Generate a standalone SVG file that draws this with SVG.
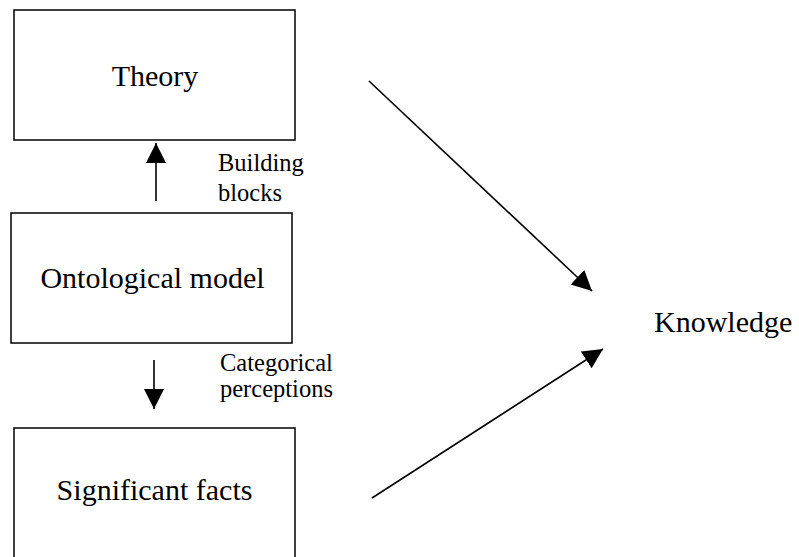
<svg xmlns="http://www.w3.org/2000/svg" width="799" height="557" viewBox="0 0 799 557">
  <style>
    .box { fill: #ffffff; stroke: #000000; stroke-width: 1.5; }
    .main { font-family: "Liberation Serif", "Times New Roman", serif; font-size: 30px; fill: #000000; }
    .lbl { font-family: "Liberation Serif", "Times New Roman", serif; font-size: 24.5px; fill: #000000; }
    .edge { fill: none; stroke: #000000; stroke-width: 1.6; }
  </style>
  <defs>
    <marker id="head" markerUnits="userSpaceOnUse" markerWidth="22" markerHeight="22" viewBox="0 0 22 22" refX="20" refY="10" orient="auto">
      <path d="M0,0 L20,10 L0,20 Z" fill="#000000"/>
    </marker>
  </defs>
  <rect width="799" height="557" fill="#ffffff"/>

  <g id="theory">
    <rect class="box" x="14" y="10" width="281" height="130"/>
    <text class="main" x="155" y="86" text-anchor="middle">Theory</text>
  </g>

  <g id="ontological-model">
    <rect class="box" x="11" y="213" width="281" height="130"/>
    <text class="main" x="152.5" y="288" text-anchor="middle">Ontological model</text>
  </g>

  <g id="significant-facts">
    <rect class="box" x="14" y="428" width="281" height="140"/>
    <text class="main" x="154.5" y="500" text-anchor="middle">Significant facts</text>
  </g>

  <g id="knowledge">
    <text class="main" x="654" y="332">Knowledge</text>
  </g>

  <g id="labels">
    <text class="lbl" x="218" y="171">Building</text>
    <text class="lbl" x="218" y="201">blocks</text>
    <text class="lbl" x="220" y="371">Categorical</text>
    <text class="lbl" x="220" y="397">perceptions</text>
  </g>

  <g id="connectors">
    <line class="edge" x1="156" y1="201" x2="156" y2="143" marker-end="url(#head)"/>
    <line class="edge" x1="154" y1="360" x2="154" y2="409" marker-end="url(#head)"/>
    <line class="edge" x1="369" y1="81" x2="592" y2="291" marker-end="url(#head)"/>
    <line class="edge" x1="372" y1="498" x2="603" y2="349" marker-end="url(#head)"/>
  </g>
</svg>
